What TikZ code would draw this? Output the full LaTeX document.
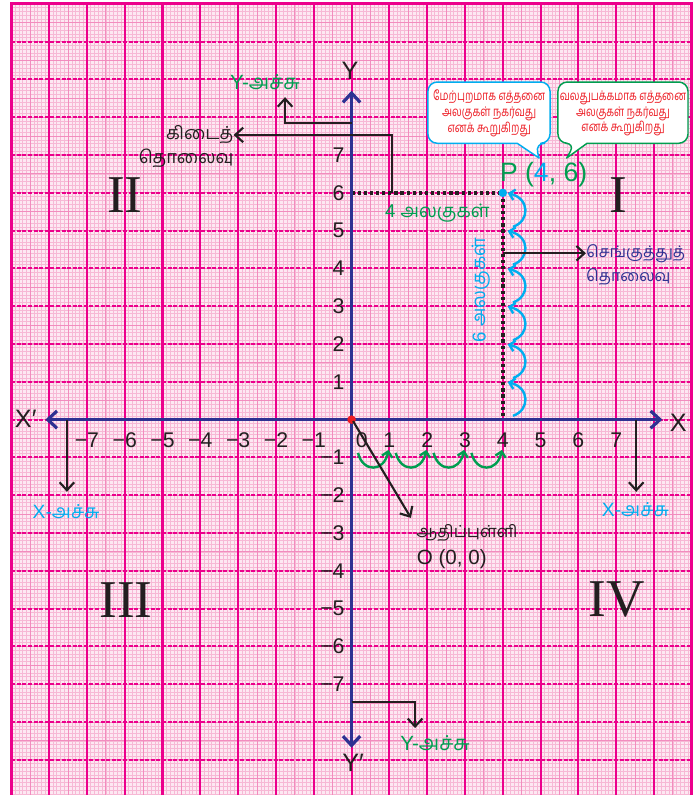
\documentclass[tikz,border=0pt]{standalone}
\usepackage{fontspec}
\setmainfont{Liberation Sans}
\newfontfamily\ta[Script=Tamil]{Hind Madurai}
\newfontfamily\romfont{Liberation Serif}
\usetikzlibrary{arrows.meta}
\definecolor{navy}{RGB}{46,49,146}
\definecolor{mag}{RGB}{236,0,140}
\definecolor{cyn}{RGB}{0,174,239}
\definecolor{grn}{RGB}{0,158,80}
\definecolor{redt}{RGB}{237,28,36}
\definecolor{blk}{RGB}{35,31,32}
\definecolor{pinkbg}{RGB}{253,232,242}
\definecolor{finepink}{RGB}{247,184,213}
\definecolor{halfpink}{RGB}{242,140,190}
\tikzset{
  barbtip/.style={-{Straight Barb[length=6pt,width=11pt]}},
  blackarrow/.style={draw=blk, line width=1.6pt, barbtip},
  axisline/.style={draw=navy, line width=2.4pt, {Straight Barb[length=7pt,width=13pt]}-{Straight Barb[length=7pt,width=13pt]}},
  num/.style={font=\fontsize{16}{18}\selectfont, text=blk, inner sep=0pt},
  axlab/.style={font=\fontsize{19}{21}\selectfont, text=blk, inner sep=0pt},
  roman/.style={font=\romfont\fontsize{40}{40}\selectfont, text=blk, inner sep=0pt},
  tbig/.style={font=\fontsize{14}{16}\selectfont, inner sep=0pt},
  dotline/.style={draw=blk, line width=2.6pt, dash pattern=on 2.4pt off 2.2pt},
  carc/.style={draw=cyn, line width=1.8pt, -{Straight Barb[length=4pt,width=8pt]}},
  garc/.style={draw=grn, line width=1.8pt, -{Straight Barb[length=4pt,width=8pt]}},
  bubtext/.style={font=\ta\fontsize{10}{11.8}\selectfont, text=redt, align=center, inner sep=0pt, xscale=0.76, transform shape},
  bubble/.style={fill=white, line width=1.1pt, line join=round},
}
\begin{document}
\begin{tikzpicture}[x=1cm,y=1cm]
\useasboundingbox (-9.30,-9.93) rectangle (9.09,11.10);
\fill[white] (-9.30,-9.93) rectangle (9.09,11.10);
% graph paper
\begin{scope}
\clip (-9,-10) rectangle (9,11);
\fill[pinkbg] (-9,-10) rectangle (9,11);
\draw[finepink, line width=0.45pt] (-9,-10) grid[step=0.1] (9,11);
\draw[halfpink, line width=0.8pt] (-9,-10) grid[step=0.5] (9,11);
\foreach \y in {-9,...,10} \draw[mag, line width=1.5pt, dash pattern=on 3pt off 1.2pt] (-9,\y) -- (9,\y);
\foreach \x in {-8,...,8} \draw[mag, line width=1.6pt] (\x,-10) -- (\x,11);
\end{scope}
\draw[mag, line width=2pt] (-9,-10.5) -- (-9,11) -- (9,11) -- (9,-10.5);

% dotted guide lines
\coordinate (P) at (4,6);
\coordinate (P0) at (0,6);
\coordinate (Px) at (4,0);
\draw[dotline] (P0) -- (P);
\draw[dotline] (P) -- (Px);

% axes
\coordinate (xl) at (-8.1,0);
\coordinate (xr) at (8.22,0);
\coordinate (yt) at (0,8.7);
\coordinate (yb) at (0,-8.68);
\draw[axisline] (xl) -- (xr);
\draw[axisline] (yb) -- (yt);

\node[axlab] (Xp) at (-8.62,0.02) {X′};
\node[axlab] (X) at (8.64,-0.08) {X};
\node[axlab] (Y) at (-0.04,9.22) {Y};
\node[axlab] (Yp) at (0.04,-9.07) {Y′};

% tick labels
\node[num] (x0) at (0.27,-0.55) {0};
\foreach \i in {1,...,7} {
  \node[num] (xp\i) at (\i,-0.55) {\i};
  \node[num] (xn\i) at (-\i,-0.55) {−\i};
  \node[num, anchor=east] (yp\i) at (-0.18,\i) {\i};
  \node[num, anchor=east] (yn\i) at (-0.18,-\i) {−\i};
}

% quadrant numerals
\node[roman] (q1) at (7.05,5.95) {I};
\node[roman] (q2) at (-6,5.95) {II};
\node[roman] (q3) at (-5.97,-4.77) {III};
\node[roman] (q4) at (7.02,-4.77) {IV};

% cyan unit arcs (vertical)
\foreach \k in {0,...,5}
  \draw[carc] (4.27,\k+0.1) .. controls (4.72,\k+0.25) and (4.72,\k+0.85) .. (4.13,\k+0.99);
% green unit arcs (horizontal)
\foreach \k in {0,...,3}
  \draw[garc] (\k+0.17,-0.88) .. controls (\k+0.3,-1.4) and (\k+0.85,-1.4) .. (\k+0.98,-0.8);

% points
\fill[cyn] (P) circle (3.2pt);
\fill[redt] (0,0) circle (3.2pt);

% P label
\node[anchor=west, inner sep=0pt, font=\fontsize{20}{22}\selectfont] (plab) at (3.92,6.47)
  {\textcolor{grn}{P (}\textcolor{cyn}{4}\textcolor{grn}{, 6)}};

% unit counts
\node[tbig, text=grn] (four) at (2.27,5.46) {4 {\ta அலகுகள்}};
\node[tbig, text=cyn, rotate=90] (six) at (3.43,3.43) {6 {\ta அலகுகள்}};

% horizontal distance
\coordinate (h0) at (1.07,6);
\coordinate (h1) at (1.07,7.53);
\node[tbig, text=blk, anchor=east, font=\fontsize{13.5}{16}\selectfont] (kid1) at (-3.12,7.53) {\ta கிடைத்};
\node[tbig, text=blk, anchor=north east, font=\fontsize{13.5}{16}\selectfont] (kid2) at ([yshift=-3pt]kid1.south east) {\ta தொலைவு};
\draw[blackarrow] (h0) -- (h1) -- (kid1.east);

% vertical distance
\coordinate (v0) at (4,4.4);
\node[tbig, text=navy, anchor=west, font=\fontsize{12}{14}\selectfont] (sen1) at (6.2,4.4) {\ta செங்குத்துத்};
\node[tbig, text=navy, anchor=north west, font=\fontsize{12}{14}\selectfont] (sen2) at ([yshift=-4pt]sen1.south west) {\ta தொலைவு};
\draw[blackarrow] (v0) -- (sen1.west);

% Y-axis labels
\coordinate (ya0) at (0,7.84);
\coordinate (ya1) at (-1.76,7.84);
\coordinate (ya2) at (-1.76,8.53);
\node[tbig, text=grn, font=\fontsize{15.5}{17}\selectfont] (yax1) at (-2.29,8.93) {Y-{\ta அச்சு}};
\draw[blackarrow] (ya0) -- (ya1) -- (ya2);

\coordinate (yb0) at (0,-7.47);
\coordinate (yb1) at (1.68,-7.47);
\coordinate (yb2) at (1.68,-8.16);
\node[tbig, text=grn, font=\fontsize{15.5}{17}\selectfont] (yax2) at (2.21,-8.56) {Y-{\ta அச்சு}};
\draw[blackarrow] (yb0) -- (yb1) -- (yb2);

% X-axis labels
\coordinate (xa0) at (-7.53,0);
\coordinate (xa1) at (-7.53,-1.91);
\node[tbig, text=cyn, font=\fontsize{14.5}{17}\selectfont] (xax1) at (-7.55,-2.44) {X-{\ta அச்சு}};
\draw[blackarrow] (xa0) -- (xa1);

\coordinate (xb0) at (7.53,0);
\coordinate (xb1) at (7.53,-1.91);
\node[tbig, text=cyn, font=\fontsize{14.5}{17}\selectfont] (xax2) at (7.51,-2.39) {X-{\ta அச்சு}};
\draw[blackarrow] (xb0) -- (xb1);

% origin
\coordinate (o0) at (0.04,-0.04);
\coordinate (o1) at (1.57,-2.6);
\draw[blackarrow] (o0) -- (o1);
\node[tbig, text=blk, anchor=base west, font=\fontsize{12.5}{15}\selectfont] (orig1) at (1.71,-3.12) {\ta ஆதிப்புள்ளி};
\node[tbig, text=blk, anchor=base west, font=\fontsize{15.5}{17}\selectfont] (orig2) at (1.72,-3.83) {O (0, 0)};

% speech bubbles
\draw[bubble, draw=cyn] (3.5,7.31) [rounded corners=7pt] -- (2.02,7.31) -- (2.02,8.93) -- (5.25,8.93) -- (5.25,7.31) -- (4.86,7.31) [sharp corners] -- (4.96,6.92) -- (4.38,7.31) -- cycle;
\node[bubtext] (b1) at (3.64,8.1) {மேற்புறமாக எத்தனை\\அலகுகள் நகர்வது\\எனக் கூறுகிறது};
\draw[bubble, draw=grn] (7.2,7.31) [rounded corners=7pt] -- (8.90,7.31) -- (8.90,8.93) -- (5.46,8.93) -- (5.46,7.31) -- (5.91,7.31) [sharp corners] -- (5.69,6.92) -- (6.23,7.31) -- cycle;
\node[bubtext] (b2) at (7.18,8.1) {வலதுபக்கமாக எத்தனை\\அலகுகள் நகர்வது\\எனக் கூறுகிறது};
\end{tikzpicture}
\end{document}
